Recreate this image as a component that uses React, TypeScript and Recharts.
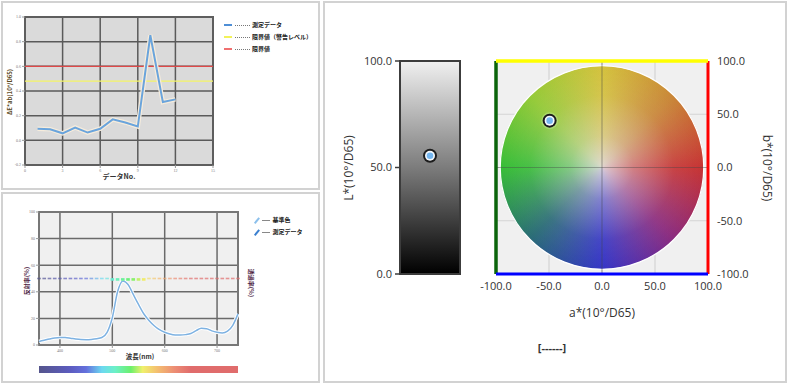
import React from "react";
import {
  LineChart,
  Line,
  ComposedChart,
  ScatterChart,
  Scatter,
  XAxis,
  YAxis,
  CartesianGrid,
  ReferenceLine,
  ReferenceArea,
} from "recharts";

// ΔE*ab trend (top left)
const deNo = [1, 2, 3, 4, 5, 6, 7, 8, 9, 10, 11, 12];
const deValues = [0.094, 0.09, 0.057, 0.104, 0.063, 0.094, 0.17, 0.145, 0.112, 0.852, 0.31, 0.332];
const deTicksX = [0, 3, 6, 9, 12, 15];
const deTicksY = [-0.2, 0, 0.2, 0.4, 0.6, 0.8, 1.0];
const deLimit = 0.6;
const deWarning = 0.48;

// spectral reflectance (bottom left)
const wavelengths = [
  360, 370, 380, 390, 400, 410, 420, 430, 440, 450, 460, 470, 480, 490, 500, 510, 520, 530, 540, 550,
  560, 570, 580, 590, 600, 610, 620, 630, 640, 650, 660, 670, 680, 690, 700, 710, 720, 730, 740,
];
const reflectance = [
  2.7, 3.6, 4.5, 5.3, 5.7, 5.6, 5.1, 4.5, 4.1, 4.0, 4.2, 4.7, 5.6, 9.5, 20.5, 40.0, 48.2, 45.5, 38.0, 30.5,
  23.5, 18.5, 14.5, 11.5, 9.6, 8.3, 7.6, 7.5, 7.8, 8.6, 10.8, 12.6, 12.2, 10.6, 9.6, 9.1, 10.4, 14.8, 23.4,
];
const referenceColor = [
  50, 50, 50, 50, 50, 50, 50, 50, 50, 50, 50, 50, 50, 50, 49.3, 49.3, 49.3, 49.3, 49.3, 49.3,
  49.3, 50, 50, 50, 50, 50, 50, 50, 50, 50, 50, 50, 50, 50, 50, 50, 50, 50, 50,
];
const wlTicks = [400, 500, 600, 700];
const reflTicks = [0, 20, 40, 60, 80, 100];
const rightTicks = [0, 0.5, 1, 1.5, 2];

// colorimetric values (right)
const lStar = [55.5];
const aStar = [-49.4];
const bStar = [44];
const lTicks = [0, 50, 100];
const abTicks = [-100, -50, 0, 50, 100];
const wheelRadius = 96;

const specStops: [number, string][] = [
  [360, "#55558c"],
  [420, "#5c5cc0"],
  [450, "#6470dc"],
  [480, "#6cd8f0"],
  [505, "#6cf0c8"],
  [535, "#6cf06c"],
  [558, "#f0f06c"],
  [585, "#f4c070"],
  [620, "#ec8c74"],
  [650, "#e06c6c"],
  [740, "#e06c6c"],
];

function hexToRgb(h: string) {
  return [parseInt(h.slice(1, 3), 16), parseInt(h.slice(3, 5), 16), parseInt(h.slice(5, 7), 16)];
}

function specColor(nm: number) {
  for (let i = 0; i < specStops.length - 1; i++) {
    const [n0, c0] = specStops[i];
    const [n1, c1] = specStops[i + 1];
    if (nm >= n0 && nm <= n1) {
      const t = (nm - n0) / (n1 - n0);
      const a = hexToRgb(c0);
      const b = hexToRgb(c1);
      const m = a.map((v, k) => Math.round(v + (b[k] - v) * t));
      return `rgb(${m[0]},${m[1]},${m[2]})`;
    }
  }
  return specStops[specStops.length - 1][1];
}

const spectrumBar = `linear-gradient(to right, ${specStops
  .map(([nm, c]) => `${c} ${(((nm - 360) / 380) * 100).toFixed(1)}%`)
  .join(", ")})`;

const deData = deNo.map((no, i) => ({ no, v: deValues[i] }));
const specData = wavelengths.map((nm, i) => ({ nm, refl: reflectance[i], ref: referenceColor[i] }));
const lData = lStar.map((l) => ({ x: 0.5, l }));
const abData = aStar.map((a, i) => ({ a, b: bStar[i] }));

const jp = "'Noto Sans CJK JP', sans-serif";
const ui = "'Open Sans', sans-serif";
const tinyTick = { fontSize: 4, fill: "#777" };
const bigTick = { fontSize: 11, fill: "#333", fontFamily: ui };

const SpecDash = (p: any) => {
  const { cx, cy, payload } = p;
  if (cx == null || cy == null) return null;
  const bright = payload.nm >= 500 && payload.nm <= 560;
  return (
    <rect
      x={cx - 1.8}
      y={cy - (bright ? 1.3 : 0.8)}
      width={3.6}
      height={bright ? 2.6 : 1.6}
      fill={specColor(payload.nm)}
      opacity={bright ? 1 : 0.7}
    />
  );
};

const Marker = (p: any) => {
  const { cx, cy } = p;
  if (cx == null || cy == null) return null;
  return (
    <g>
      <circle cx={cx} cy={cy} r={8.5} fill="#c8f0a8" opacity={0.35} />
      <circle cx={cx} cy={cy} r={7} fill="#1c1c1c" />
      <circle cx={cx} cy={cy} r={5} fill="#f4f8fc" />
      <circle cx={cx} cy={cy} r={3.3} fill="#74b6f0" />
    </g>
  );
};

const LMarker = (p: any) => {
  const { cx, cy } = p;
  if (cx == null || cy == null) return null;
  return (
    <g>
      <circle cx={cx} cy={cy} r={7} fill="#1c1c1c" />
      <circle cx={cx} cy={cy} r={5} fill="#f4f8fc" />
      <circle cx={cx} cy={cy} r={3.3} fill="#74b6f0" />
    </g>
  );
};

const Wheel = (p: any) => {
  const { x, y, width, height } = p;
  const r = Math.min(width, height) / 2;
  const cx = x + width / 2;
  const cy = y + height / 2;
  return (
    <g>
      <foreignObject x={cx - r} y={cy - r} width={2 * r} height={2 * r}>
        <div
          style={{
            width: "100%",
            height: "100%",
            borderRadius: "50%",
            background:
              "radial-gradient(circle, rgba(226,220,224,0.9) 0%, rgba(226,220,224,0.45) 22%, rgba(226,220,224,0.1) 50%, rgba(226,220,224,0) 72%), conic-gradient(#d4c23c 0deg, #c98636 45deg, #c63232 90deg, #8a2a7e 135deg, #3434c6 180deg, #286a76 225deg, #36bd36 270deg, #94ca36 315deg, #d4c23c 360deg)",
          }}
        />
      </foreignObject>
      <circle cx={cx} cy={cy} r={r} fill="none" stroke="#ffffff" strokeWidth={1.2} />
    </g>
  );
};

const LBar = (p: any) => {
  const { x, y, width, height } = p;
  return (
    <g>
      <defs>
        <linearGradient id="lgrad" x1="0" y1="0" x2="0" y2="1">
          <stop offset="0%" stopColor="#f0f0f0" />
          <stop offset="50%" stopColor="#7c7c7c" />
          <stop offset="100%" stopColor="#000000" />
        </linearGradient>
      </defs>
      <rect x={x} y={y} width={width} height={height} fill="url(#lgrad)" stroke="#3c3c3c" strokeWidth={2} />
    </g>
  );
};

const panel = (left: number, top: number, width: number, height: number): React.CSSProperties => ({
  position: "absolute",
  left,
  top,
  width,
  height,
  boxSizing: "border-box",
  border: "2px solid #d2d2d2",
});

const abs = (left: number, top: number, extra: React.CSSProperties = {}): React.CSSProperties => ({
  position: "absolute",
  left,
  top,
  whiteSpace: "nowrap",
  ...extra,
});

export default function App() {
  const deLegend = [
    { c: "#4f8fd6", t: "測定データ", y: 21 },
    { c: "#f2f25a", t: "限界値（警告レベル）", y: 33 },
    { c: "#f07070", t: "限界値", y: 45 },
  ];
  const specLegend = [
    { c: "#8cc0ec", t: "基準色", y: 216 },
    { c: "#3c80d0", t: "測定データ", y: 228 },
  ];
  return (
    <div style={{ position: "absolute", left: 0, top: 0, width: 789, height: 385, background: "#fff", overflow: "hidden" }}>
      <div style={panel(1, 1, 319, 189)} />
      <div style={panel(1, 192, 319, 191)} />
      <div style={panel(323, 1, 464, 382)} />

      {/* ΔE trend */}
      <div style={abs(0, 0)}>
        <LineChart width={320} height={190} data={deData} margin={{ top: 17, right: 107, bottom: 15, left: 5 }}>
          <CartesianGrid fill="#dadada" stroke="#5a5a5a" strokeWidth={1.5} />
          <XAxis
            dataKey="no"
            type="number"
            domain={[0, 15]}
            ticks={deTicksX}
            height={10}
            tick={tinyTick}
            tickSize={3}
            tickMargin={1}
            axisLine={false}
            tickLine={{ stroke: "#999" }}
          />
          <YAxis
            domain={[-0.2, 1.0]}
            ticks={deTicksY}
            width={20}
            tick={tinyTick}
            tickSize={3}
            tickMargin={1}
            axisLine={false}
            tickLine={{ stroke: "#999" }}
            tickFormatter={(v: number) => v.toFixed(1)}
          />
          <ReferenceArea x1={0} x2={15} y1={-0.2} y2={1.0} fill="none" stroke="#5e5e5e" strokeWidth={2} />
          <ReferenceLine y={deWarning} stroke="#f4f466" strokeWidth={1.2} />
          <ReferenceLine y={deLimit} stroke="#e04848" strokeWidth={1.2} />
          <Line dataKey="v" stroke="#f6ecdc" strokeWidth={4.5} dot={false} isAnimationActive={false} />
          <Line dataKey="v" stroke="#6aa4dc" strokeWidth={2} dot={false} isAnimationActive={false} />
        </LineChart>
      </div>
      <div style={abs(9, 92, { transform: "translate(-50%, -50%) rotate(-90deg)", fontSize: 6, color: "#5c4a1e", fontFamily: jp, fontWeight: 700 })}>
        ΔE*ab(10°/D65)
      </div>
      <div style={abs(119, 176, { transform: "translate(-50%, -50%)", fontSize: 7, color: "#333", fontFamily: jp, fontWeight: 700 })}>
        データNo.
      </div>
      {deLegend.map((d) => (
        <div key={d.t} style={abs(224, d.y, { display: "flex", alignItems: "center", fontSize: 6, color: "#222", fontFamily: jp, fontWeight: 700, lineHeight: "8px" })}>
          <span style={{ display: "inline-block", width: 8, height: 2.5, background: d.c }} />
          <span style={{ display: "inline-block", width: 15, marginLeft: 3, borderTop: "1px dotted #777" }} />
          <span style={{ marginLeft: 2 }}>{d.t}</span>
        </div>
      ))}

      {/* spectral reflectance */}
      <div style={abs(0, 193)}>
        <ComposedChart width={320} height={190} data={specData} margin={{ top: 19, right: 70, bottom: 28, left: 15 }}>
          <CartesianGrid yAxisId="left" fill="#f0f0f0" stroke="#6a6a6a" strokeWidth={1.5} />
          <XAxis
            dataKey="nm"
            type="number"
            domain={[360, 740]}
            ticks={wlTicks}
            height={10}
            tick={tinyTick}
            tickSize={3}
            tickMargin={1}
            axisLine={false}
            tickLine={{ stroke: "#999" }}
          />
          <YAxis
            yAxisId="left"
            domain={[0, 100]}
            ticks={reflTicks}
            width={24}
            tick={tinyTick}
            tickSize={3}
            tickMargin={1}
            axisLine={false}
            tickLine={{ stroke: "#999" }}
          />
          <YAxis
            yAxisId="right"
            orientation="right"
            domain={[0, 2]}
            ticks={rightTicks}
            width={12}
            tick={tinyTick}
            tickSize={3}
            tickMargin={1}
            axisLine={false}
            tickLine={{ stroke: "#999" }}
          />
          <ReferenceArea yAxisId="left" x1={360} x2={740} y1={0} y2={100} fill="none" stroke="#777" strokeWidth={2} />
          <Scatter yAxisId="left" dataKey="ref" shape={SpecDash} isAnimationActive={false} />
          <Line yAxisId="left" type="monotone" dataKey="refl" stroke="#ffffff" strokeWidth={3.5} dot={false} isAnimationActive={false} />
          <Line yAxisId="left" type="monotone" dataKey="refl" stroke="#7eb2e2" strokeWidth={1.5} dot={false} isAnimationActive={false} />
        </ComposedChart>
      </div>
      <div style={abs(39, 366, { width: 199, height: 7, background: spectrumBar })} />
      <div style={abs(26, 281, { transform: "translate(-50%, -50%) rotate(-90deg)", fontSize: 6, color: "#4a2040", fontFamily: jp, fontWeight: 700 })}>
        反射率(%)
      </div>
      <div style={abs(251, 283, { transform: "translate(-50%, -50%) rotate(90deg)", fontSize: 6, color: "#4a2040", fontFamily: jp, fontWeight: 700 })}>
        透過率(%)
      </div>
      <div style={abs(140, 356, { transform: "translate(-50%, -50%)", fontSize: 6.5, color: "#333", fontFamily: jp, fontWeight: 700 })}>
        波長(nm)
      </div>
      {specLegend.map((d) => (
        <div key={d.t} style={abs(254, d.y, { display: "flex", alignItems: "center", fontSize: 6, color: "#222", fontFamily: jp, fontWeight: 700, lineHeight: "8px" })}>
          <span style={{ display: "inline-block", width: 1.6, height: 7, background: d.c, transform: "rotate(40deg)", marginLeft: 2 }} />
          <span style={{ display: "inline-block", width: 8, marginLeft: 4, borderTop: "1px solid #888" }} />
          <span style={{ marginLeft: 3 }}>{d.t}</span>
        </div>
      ))}

      {/* L* bar */}
      <div style={abs(323, 0)}>
        <ScatterChart width={150} height={300} margin={{ top: 61, right: 13, bottom: 26, left: 32 }}>
          <XAxis dataKey="x" type="number" domain={[0, 1]} hide />
          <YAxis
            dataKey="l"
            type="number"
            domain={[0, 100]}
            ticks={lTicks}
            width={45}
            tick={bigTick}
            tickSize={5}
            tickMargin={3}
            axisLine={{ stroke: "#3c3c3c", strokeWidth: 1.5 }}
            tickLine={{ stroke: "#3c3c3c", strokeWidth: 1.5 }}
            tickFormatter={(v: number) => v.toFixed(1)}
          />
          <ReferenceArea x1={0} x2={1} y1={0} y2={100} shape={LBar} />
          <Scatter data={lData} shape={LMarker} isAnimationActive={false} />
        </ScatterChart>
      </div>
      <div style={abs(348, 168, { transform: "translate(-50%, -50%) rotate(-90deg)", fontSize: 12, color: "#333", fontFamily: ui })}>
        L*(10°/D65)
      </div>

      {/* a*b* diagram */}
      <div style={abs(470, 0)}>
        <ScatterChart width={300} height={330} margin={{ top: 61, right: 22, bottom: 26, left: 26 }}>
          <CartesianGrid fill="#f0f0f0" stroke="#d4d4d4" strokeWidth={1.2} />
          <XAxis
            dataKey="a"
            type="number"
            domain={[-100, 100]}
            ticks={abTicks}
            height={30}
            tick={bigTick}
            tickLine={false}
            axisLine={false}
            tickMargin={2}
            tickFormatter={(v: number) => v.toFixed(1)}
          />
          <YAxis
            dataKey="b"
            type="number"
            orientation="right"
            domain={[-100, 100]}
            ticks={abTicks}
            width={40}
            tick={bigTick}
            tickLine={false}
            axisLine={false}
            tickMargin={3}
            tickFormatter={(v: number) => v.toFixed(1)}
          />
          <ReferenceArea x1={-wheelRadius} x2={wheelRadius} y1={-wheelRadius} y2={wheelRadius} shape={Wheel} />
          <ReferenceLine x={0} stroke="rgba(70,70,70,0.4)" strokeWidth={1.2} />
          <ReferenceLine y={0} stroke="rgba(70,70,70,0.4)" strokeWidth={1.2} />
          <ReferenceLine x={-100} stroke="#0b640b" strokeWidth={3.5} />
          <ReferenceLine x={100} stroke="#ff0000" strokeWidth={3} />
          <ReferenceLine y={100} stroke="#ffff00" strokeWidth={3.5} />
          <ReferenceLine y={-100} stroke="#0000ff" strokeWidth={3} />
          <Scatter data={abData} shape={Marker} isAnimationActive={false} />
        </ScatterChart>
      </div>
      <div style={abs(602, 312, { transform: "translate(-50%, -50%)", fontSize: 12, color: "#333", fontFamily: ui })}>
        a*(10°/D65)
      </div>
      <div style={abs(767, 168, { transform: "translate(-50%, -50%) rotate(90deg)", fontSize: 12, color: "#333", fontFamily: ui })}>
        b*(10°/D65)
      </div>
      <div style={abs(552, 347, { transform: "translate(-50%, -50%)", fontSize: 11, color: "#333", fontFamily: ui, fontWeight: 700 })}>
        [------]
      </div>
    </div>
  );
}
